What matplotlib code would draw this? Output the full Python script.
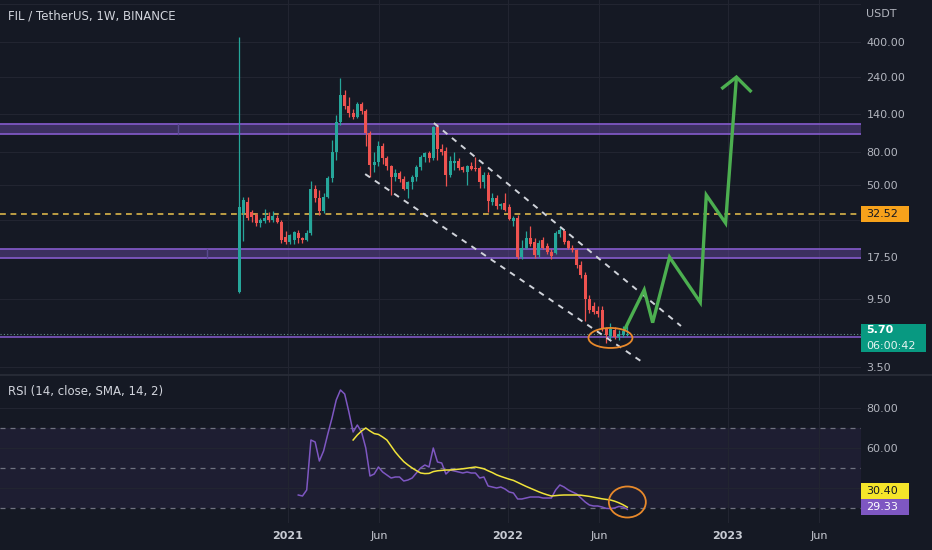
import numpy as np
import pandas as pd
import matplotlib
matplotlib.use("Agg")
import matplotlib.pyplot as plt
import matplotlib.dates as mdates
from matplotlib.patches import Rectangle, Ellipse
from matplotlib.lines import Line2D
from matplotlib.ticker import NullLocator, NullFormatter
from matplotlib import transforms as mtrans

# ---------------- data ----------------
week_start = "2020-10-12"
opens = [10.5, 33, 39, 33.5, 32, 28.5, 29.5, 31.5, 30, 31,
         29, 23.5, 21.8, 22.5, 24.7, 23, 22.3, 24.7, 47, 41,
         34, 42, 55, 80, 125, 185, 158, 142, 134, 162,
         146, 106, 67, 70, 88, 74, 66, 56, 59, 54,
         47, 52, 56, 65, 75, 79, 74, 116, 84, 82,
         58, 69, 71, 64.5, 60, 66, 64, 63.5, 52, 58,
         38.7, 41.5, 36.6, 38.3, 36, 29.5, 31, 17.5, 20, 23,
         21.6, 18, 22.3, 20.5, 18.7, 18.5, 24.5, 25.5, 22, 20,
         19.3, 15.5, 13.5, 9.5, 8.6, 7.9, 8.1, 6.2, 5.5, 6.0,
         5.4, 5.6, 5.6]
highs = [430, 42, 42, 34.5, 33, 31, 35, 33.5, 34, 32,
         30, 25.5, 24.5, 25.5, 26, 23.5, 26, 53, 50, 46,
         44, 57, 96, 138, 237, 200, 180, 150, 168, 167,
         150, 110, 80, 95, 92, 76, 67, 63, 61, 57,
         53, 58, 67, 77, 80, 82, 118, 122, 91, 87,
         76, 80, 74, 66, 67, 70, 75, 66, 60, 60,
         44, 43, 38.5, 44, 37.5, 31.5, 32, 22.5, 25.5, 27.5,
         23, 22.5, 23.5, 21.5, 19.5, 25.5, 27, 26, 22.5, 20.8,
         19.5, 16.5, 14, 10, 9, 8.5, 8.5, 6.3, 6.7, 6.3,
         6.0, 6.4, 6.5]
lows = [10.3, 22, 30, 29, 27.5, 27, 28.5, 29, 29, 28.5,
        21.5, 21, 21.2, 21.2, 21.3, 21.3, 22, 24, 39, 32,
        33, 41, 52, 72, 120, 150, 135, 130, 132, 140,
        88, 56, 60, 66, 68, 62, 43, 53, 52, 46,
        41.5, 47, 53, 62, 70, 70, 72, 72, 77, 49,
        56, 62, 62, 60, 50, 62, 61, 48, 48, 33.6,
        37, 35, 35, 34, 29.7, 27.5, 17, 17, 19.5, 20.5,
        17.3, 17.4, 19.5, 18.3, 17, 18.2, 23.5, 21, 19.5, 18.7,
        14.8, 12.8, 6.9, 7.7, 7.6, 7.3, 5.9, 4.98, 5.3, 5.3,
        5.2, 5.4, 5.5]
closes = [36, 40, 31, 31.2, 28.5, 30, 31, 30, 31.5, 29,
          22.5, 21.8, 24, 25, 23, 22.3, 24.7, 47, 41, 34,
          42, 55, 80, 125, 185, 158, 142, 134, 162, 146,
          106, 67, 70, 88, 74, 66, 56, 59, 54, 47,
          52, 56, 65, 75, 79, 74, 116, 84, 80, 58,
          71, 71, 64, 62, 66, 63, 62.5, 52, 58, 39.5,
          41.5, 36.6, 38, 34.6, 30.5, 31, 17.5, 20, 23, 21,
          18, 21.4, 20, 18.7, 17.8, 24.7, 25.8, 21.6, 20, 19.2,
          15.5, 13.5, 9.5, 8.1, 7.8, 7.6, 6.2, 5.6, 6.1, 5.4,
          5.7, 5.9, 5.7]

rsi_start = 14
rsi_values = [36.5, 36, 39, 64, 63, 53.5, 58.5, 67, 75, 84,
              89, 87, 78, 68, 71.5, 68, 60, 46, 47, 50.5,
              48, 46.5, 45, 45.5, 45.5, 43.5, 44, 45, 47.5, 50,
              51.5, 50.5, 60, 53, 52.5, 47, 49, 48.5, 48, 47.5,
              48, 47.5, 47.5, 45, 45.5, 41, 40.5, 40, 40.5, 39.5,
              38, 37.5, 34.5, 34.5, 35, 35.5, 35.5, 35.5, 35, 35,
              35, 39, 41.5, 40.5, 39, 38, 37, 35, 33, 31.5,
              31, 31, 30.5, 29.8, 29.7, 30, 30.8, 30.5, 29.33]
rsi_ma_start = 27
rsi_ma_values = [64, 66.5, 68.5, 70, 68.5, 67.2, 66.8, 65.5, 64, 61,
                 58, 55.5, 53.2, 51.5, 50, 48.7, 47.5, 47.2, 47.3, 48.2,
                 48.6, 48.8, 49, 49, 49.2, 49.4, 49.6, 49.9, 50.2, 50.5,
                 50.1, 49.6, 48.6, 47.7, 46.6, 45.8, 45.1, 44.4, 43.8, 42.8,
                 41.8, 40.8, 39.9, 39, 38.1, 37.3, 36.6, 36, 36.2, 36.4,
                 36.5, 36.5, 36.5, 36.5, 36.4, 36.1, 35.8, 35.4, 35, 34.6,
                 34.3, 34, 33.4, 32.6, 31.6, 30.4]

band_upper = (105, 121)
band_lower = (17.2, 19.6)
support_line = 5.4
level_line = 32.52
last_price = 5.70
countdown = "06:00:42"
rsi_last = 29.33
rsi_ma_last = 30.40

channel_upper_dates = ["2021-08-31", "2022-10-15"]
channel_upper_prices = [122.8, 6.38]
channel_lower_dates = ["2021-05-09", "2022-08-12"]
channel_lower_prices = [58.4, 3.77]
proj_dates = ["2022-07-13", "2022-08-15", "2022-08-29", "2022-09-26",
              "2022-11-16", "2022-11-26", "2022-12-28", "2023-01-15"]
proj_prices = [6.0, 10.8, 6.7, 17.4, 9.0, 43.0, 28.6, 240]
arrow_dates = ["2022-12-21", "2023-01-15", "2023-02-09"]
arrow_prices = [202, 240, 193]
ellipse_main = ("2022-06-20", 5.36)
ellipse_rsi = ("2022-07-18", 33.0)

# gridline levels; labels hidden under the price boxes are left empty
price_ticks = [700, 400, 240, 140, 80, 50, 30, 17.5, 9.5, 5.5, 3.5]
price_tick_labels = ["", "400.00", "240.00", "140.00", "80.00", "50.00",
                     "", "17.50", "9.50", "", "3.50"]
rsi_ticks = [80, 60, 40]
rsi_tick_labels = ["80.00", "60.00", ""]
time_ticks = ["2021-01-01", "2021-06-01", "2022-01-01", "2022-06-01",
              "2023-01-01", "2023-06-01"]
time_labels = ["2021", "Jun", "2022", "Jun", "2023", "Jun"]
title = "FIL / TetherUS, 1W, BINANCE"
rsi_title = "RSI (14, close, SMA, 14, 2)"

# ---------------- style ----------------
W, H, DPI = 932, 550, 100
BG = "#151924"
GRID = "#222531"
TXT = "#b2b5be"
UP = "#26a69a"
DN = "#ef5350"
PURPLE = "#7e57c2"
ORANGE = "#e8892b"

plt.rcParams["font.family"] = ["DejaVu Sans"]


def dnum(s):
    return mdates.date2num(pd.to_datetime(s))


fig = plt.figure(figsize=(W / DPI, H / DPI), dpi=DPI, facecolor=BG)
ax = fig.add_axes([0, 1 - 374 / H, 861 / W, 374 / H])
ax2 = fig.add_axes([0, 1 - 523 / H, 861 / W, (523 - 375) / H], sharex=ax)
for a in (ax, ax2):
    a.set_facecolor(BG)
    for s in a.spines.values():
        s.set_visible(False)
    a.set_axisbelow(True)

base = dnum("2021-01-01")
ax.set_xlim(base - 477.9, base + 950.7)

# ---------------- candles ----------------
dates = pd.date_range(week_start, periods=len(opens), freq="7D")
x = mdates.date2num(dates)
o = np.array(opens, float)
h = np.array(highs, float)
l = np.array(lows, float)
c = np.array(closes, float)
cols = [UP if cc >= oo else DN for oo, cc in zip(o, c)]
ax.vlines(x, l, h, colors=cols, lw=0.9, zorder=3)
bottom = np.minimum(o, c)
height = np.maximum(np.abs(c - o), bottom * 0.015)
ax.bar(x, height, bottom=bottom, width=5.0, color=cols, linewidth=0, zorder=4)

ax.set_yscale("log")
ax.set_ylim(3.17, 738)
ax.yaxis.set_minor_locator(NullLocator())
ax.yaxis.set_minor_formatter(NullFormatter())
ax.set_yticks(price_ticks)
ax.set_yticklabels(price_tick_labels)
ax.yaxis.tick_right()
ax.tick_params(axis="y", length=0, pad=4, labelsize=8, colors=TXT)
ax.tick_params(axis="x", length=0, labelbottom=False)
ax.grid(True, color=GRID, lw=0.8)

# bands / lines
for lo, hi, xs in (band_upper + ("2020-07-03",), band_lower + ("2020-08-19",)):
    ax.axhspan(lo, hi, facecolor=PURPLE, alpha=0.38, lw=0, zorder=1)
    ax.axhline(lo, color=PURPLE, lw=1.3, zorder=2)
    ax.axhline(hi, color=PURPLE, lw=1.3, zorder=2)
    ax.plot([dnum(xs)] * 2, [lo, hi], color="#5a4a90", lw=1, zorder=2)

ax.axhline(support_line, color=PURPLE, lw=1.2, zorder=2)
ax.axhline(last_price, color="#5f8f8a", lw=0.8, ls=(0, (1, 2)), zorder=2)
ax.axhline(level_line, color="#d9b44a", lw=1.2, ls=(0, (3.5, 2.8)), zorder=2)

ax.plot(mdates.date2num(pd.to_datetime(channel_upper_dates)), channel_upper_prices,
        color="#d0d3da", lw=1.4, ls=(0, (3, 3)), zorder=5)
ax.plot(mdates.date2num(pd.to_datetime(channel_lower_dates)), channel_lower_prices,
        color="#d0d3da", lw=1.4, ls=(0, (3, 3)), zorder=5)

ax.plot(mdates.date2num(pd.to_datetime(proj_dates)), proj_prices, color="#4caf50",
        lw=2.4, solid_joinstyle="miter", solid_capstyle="butt", zorder=6)
ax.plot(mdates.date2num(pd.to_datetime(arrow_dates)), arrow_prices, color="#4caf50",
        lw=2.4, solid_joinstyle="miter", solid_capstyle="butt", zorder=6)

ax.add_patch(Ellipse((0, 0), 44 / DPI, 20 / DPI,
                     transform=fig.dpi_scale_trans + mtrans.ScaledTranslation(
                         dnum(ellipse_main[0]), ellipse_main[1], ax.transData),
                     fill=False, ec=ORANGE, lw=1.3, zorder=7))

# ---------------- RSI ----------------
ax2.axhspan(30, 70, facecolor=PURPLE, alpha=0.09, lw=0, zorder=0.5)
for v in (70, 50, 30):
    ax2.axhline(v, color="#6f7280", lw=0.9, ls=(0, (4, 4)), zorder=1)
ax2.plot(x[rsi_start:rsi_start + len(rsi_values)], rsi_values, color=PURPLE, lw=1.1, zorder=3)
ax2.plot(x[rsi_ma_start:rsi_ma_start + len(rsi_ma_values)], rsi_ma_values,
         color="#f0e33a", lw=1.1, zorder=4)
ax2.set_ylim(22.5, 96.5)
ax2.set_yticks(rsi_ticks)
ax2.set_yticklabels(rsi_tick_labels)
ax2.yaxis.tick_right()
ax2.tick_params(axis="y", length=0, pad=4, labelsize=8, colors=TXT)
ax2.set_xticks(mdates.date2num(pd.to_datetime(time_ticks)))
ax2.set_xticklabels(time_labels)
ax2.tick_params(axis="x", length=0, pad=6, labelsize=8, colors="#c8cbd3")
for t in ax2.get_xticklabels():
    if t.get_text().isdigit():
        t.set_fontweight("bold")
ax2.grid(True, color=GRID, lw=0.8)

ax2.add_patch(Ellipse((0, 0), 37 / DPI, 31 / DPI,
                      transform=fig.dpi_scale_trans + mtrans.ScaledTranslation(
                          dnum(ellipse_rsi[0]), ellipse_rsi[1], ax2.transData),
                      fill=False, ec=ORANGE, lw=1.3, zorder=7))


# ---------------- axis boxes ----------------
def axis_box(axis, value, fc, w_px, h_px, dy_px=0.0):
    blend = mtrans.blended_transform_factory(axis.transAxes, axis.transData)
    tr = fig.dpi_scale_trans + mtrans.ScaledTranslation(1.0, value, blend)
    fig.add_artist(Rectangle((0, (dy_px - h_px / 2) / DPI), w_px / DPI, h_px / DPI,
                             transform=tr, facecolor=fc, edgecolor="none", zorder=5))
    return tr


tr = axis_box(ax, level_line, "#f7a21b", 48, 16)
fig.text(5 / DPI, 0, f"{level_line:.2f}", transform=tr, ha="left", va="center",
         fontsize=8, color="#131722", zorder=6)

tr = axis_box(ax, last_price, "#089981", 65, 28, dy_px=-4)
fig.text(5 / DPI, 4 / DPI, f"{last_price:.2f}", transform=tr, ha="left", va="center",
         fontsize=8, color="white", fontweight="bold", zorder=6)
fig.text(5 / DPI, -12 / DPI, countdown, transform=tr, ha="left", va="center",
         fontsize=8, color="#e6f4f1", zorder=6)

tr = axis_box(ax2, rsi_last, PURPLE, 48, 16, dy_px=2)
fig.text(5 / DPI, 2 / DPI, f"{rsi_last:.2f}", transform=tr, ha="left", va="center",
         fontsize=8, color="white", zorder=6)
tr = axis_box(ax2, rsi_last, "#f5e52a", 48, 16, dy_px=18)
fig.text(5 / DPI, 18 / DPI, f"{rsi_ma_last:.2f}", transform=tr, ha="left", va="center",
         fontsize=8, color="#131722", zorder=6)

# separator and titles
fig.add_artist(Line2D([0, 1], [1 - 374.5 / H] * 2, transform=fig.transFigure,
                      color="#2a2e39", lw=1.2, zorder=4))
fig.text(8 / W, 1 - 16 / H, title, ha="left", va="center", fontsize=8.5, color="#d1d4dc")
fig.text(8 / W, 1 - 392 / H, rsi_title, ha="left", va="center", fontsize=8.5, color="#d1d4dc")
fig.text(866 / W, 1 - 14 / H, "USDT", ha="left", va="center", fontsize=8, color=TXT)

fig.savefig("out.png", dpi=DPI, facecolor=BG)
